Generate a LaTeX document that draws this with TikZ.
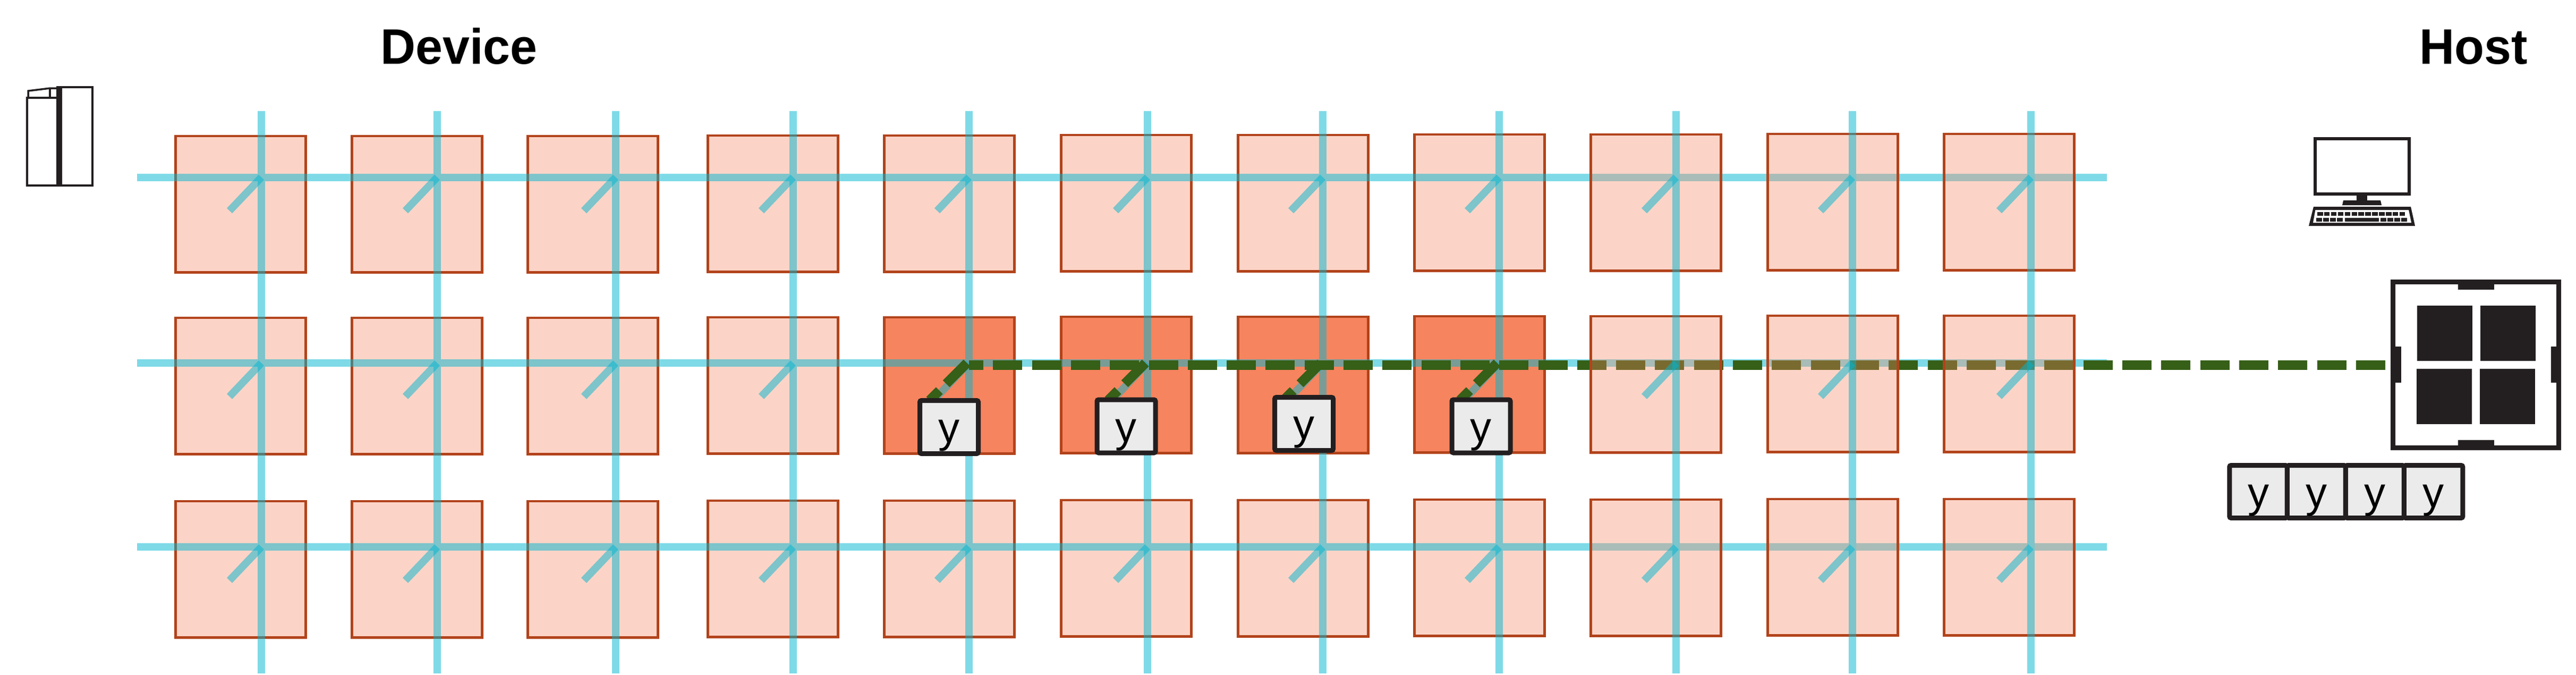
\documentclass[tikz,border=0pt]{standalone}
\usepackage{fontspec}
\setmainfont{Liberation Sans}
\newfontfamily\headfont[FakeStretch=0.975]{Liberation Sans}
\usetikzlibrary{positioning}
\definecolor{tileorange}{HTML}{F6845E}
\definecolor{tileedge}{HTML}{B2431B}
\definecolor{buscyan}{HTML}{00B5CF}
\definecolor{linkgreen}{HTML}{365F17}
\definecolor{ink}{HTML}{231F20}
\definecolor{cellgray}{HTML}{EBEBEB}
\tikzset{
tile/.style={draw=tileedge, line width=.045cm, fill=tileorange, fill opacity=.35, inner sep=0, outer sep=0, minimum width=2.45cm, minimum height=2.565cm},
bus/.style={draw=buscyan, line width=.14cm, draw opacity=.5},
hostlink/.style={draw=linkgreen, line width=.18cm, dash pattern=on .55cm off .183cm},
ybox/.style={draw=ink, line width=.09cm, fill=cellgray, rounded corners=.03cm, inner sep=0, outer sep=0, minimum width=1.1cm, minimum height=1cm, text height=.58cm, text depth=0cm, font=\fontsize{22.8}{26}\selectfont},
header/.style={anchor=base west, inner sep=0, font=\headfont\bfseries\fontsize{26.7}{30}\selectfont}
}
\begin{document}
\begin{tikzpicture}
\useasboundingbox (0,0) rectangle (48.49,-12.69);

\foreach \c/\v in {1/4.92,2/8.23,3/11.59,4/14.93,5/18.24,6/21.60,7/24.90,8/28.22,9/31.55,10/34.87,11/38.23}{
\coordinate (vt\c) at (\v,-2.09);
\coordinate (vb\c) at (\v,-12.67);
\foreach \r/\y in {1/3.335,2/6.83,3/10.29}{
\coordinate (j\r-\c) at (\v,-\y);
}
}
\foreach \r/\y in {1/3.335,2/6.83,3/10.29}{
\coordinate (hl\r) at (2.58,-\y);
\coordinate (hr\r) at (39.66,-\y);
}

\foreach \c/\x/\d in {1/4.53/0,2/7.85/0,3/11.16/0,4/14.55/.01,5/17.87/.01,6/21.20/.02,7/24.53/.02,8/27.85/.03}{
\foreach \r/\y in {1/3.84,2/7.26,3/10.71}{
\pgfmathsetmacro\op{(\r==2 && \c>4) ? 1 : .35}
\node[tile, fill opacity=\op] (t\r-\c) at (\x,-\y+\d) {};
}
}

\draw[bus] foreach \r in {1,2,3}{(hl\r) -- ([xshift=-.07cm]j\r-9) ([xshift=.07cm]j\r-9) -- ([xshift=-.07cm]j\r-10) ([xshift=.07cm]j\r-10) -- ([xshift=-.07cm]j\r-11) ([xshift=.07cm]j\r-11) -- (hr\r)} foreach \c in {1,...,8}{(vt\c) -- (vb\c)};
\draw[bus] foreach \c in {1,...,8}{foreach \r in {1,2,3}{(j\r-\c) -- ++(-.6,-.63)}};

\node[draw=ink, line width=.09cm, inner sep=0, outer sep=0, minimum width=3.12cm, minimum height=3.12cm] (chip) at (46.605,-6.865) {};
\fill[ink] (46.27,-5.26) rectangle (46.95,-5.45);
\fill[ink] (46.27,-8.28) rectangle (46.95,-8.47);
\fill[ink] (45.00,-6.52) rectangle (45.20,-7.20);
\fill[ink] (48.02,-6.52) rectangle (48.21,-7.20);
\fill[ink] (45.50,-5.75) rectangle (46.54,-6.79);
\fill[ink] (46.69,-5.75) rectangle (47.73,-6.79);
\fill[ink] (45.49,-6.94) rectangle (46.53,-7.98);
\fill[ink] (46.68,-6.94) rectangle (47.72,-7.98);

\coordinate (linkstart) at (18.24,-6.865);
\draw[hostlink, dash phase=.28cm, shorten >=.135cm] (linkstart) -- (chip.west);
\foreach \c in {5,...,8}{
\draw[hostlink] ([xshift=-.04cm]j2-\c) -- ([xshift=-.74cm,yshift=-.70cm]j2-\c);
}

\foreach \c/\x/\d in {9/31.17/.03,10/34.50/.04,11/37.82/.04}{
\foreach \r/\y in {1/3.84,2/7.26,3/10.71}{
\node[tile] (t\r-\c) at (\x,-\y+\d) {};
}
}
\draw[bus] foreach \c in {9,10,11}{(vt\c) -- (vb\c)};
\draw[bus] foreach \c in {9,10,11}{foreach \r in {1,2,3}{(j\r-\c) -- ++(-.6,-.63)}};

\foreach \c/\x/\y in {5/17.865/8.035,6/21.20/8.02,7/24.545/7.975,8/27.88/8.02}{
\node[ybox] (y\c) at (\x,-\y) {y};
}

\node[ybox, minimum width=1.085cm, minimum height=.99cm] (q1) at (42.51,-9.25) {y};
\node[ybox, minimum height=.99cm, right=0pt of q1] (q2) {y};
\node[ybox, minimum height=.99cm, right=0pt of q2] (q3) {y};
\node[ybox, minimum width=1.105cm, minimum height=.99cm, right=0pt of q3] (q4) {y};

\node[header] (device) at (7.16,-1.20) {Device};
\node[header] (host) at (45.54,-1.205) {Host};

\draw[ink, line width=.035cm] (0.51,-1.84) rectangle (1.08,-3.49);
\draw[ink, line width=.035cm] (1.08,-1.64) rectangle (1.74,-3.49);
\draw[ink, line width=.035cm] (0.53,-1.84) -- (0.53,-1.71) -- (0.94,-1.66) -- (1.08,-1.66);
\draw[ink, line width=.035cm] (0.94,-1.66) -- (0.94,-1.84);
\fill[ink] (1.07,-1.63) rectangle (1.17,-3.51);

\draw[ink, line width=.06cm] (43.58,-2.61) rectangle (45.35,-3.65);
\fill[ink] (44.36,-3.65) rectangle (44.56,-3.78);
\fill[ink] (44.11,-3.77) -- (44.81,-3.77) -- (44.83,-3.86) -- (44.09,-3.86) -- cycle;
\fill[ink] (43.55,-3.89) -- (45.38,-3.89) -- (45.46,-4.25) -- (43.46,-4.25) -- cycle;
\fill[white] (43.584,-3.95) -- (45.34,-3.95) -- (45.39,-4.19) -- (43.54,-4.19) -- cycle;
\foreach \i in {0,...,12}{
\fill[ink] ({43.62+.129*\i},-3.99) rectangle ++(.105,-.07);
}
\foreach \x in {43.60,43.73,43.86,43.99,44.81,44.94,45.07,45.20}{
\fill[ink] (\x,-4.10) rectangle ++(.105,-.07);
}
\fill[ink] (44.14,-4.10) rectangle (44.775,-4.17);
\end{tikzpicture}
\end{document}
